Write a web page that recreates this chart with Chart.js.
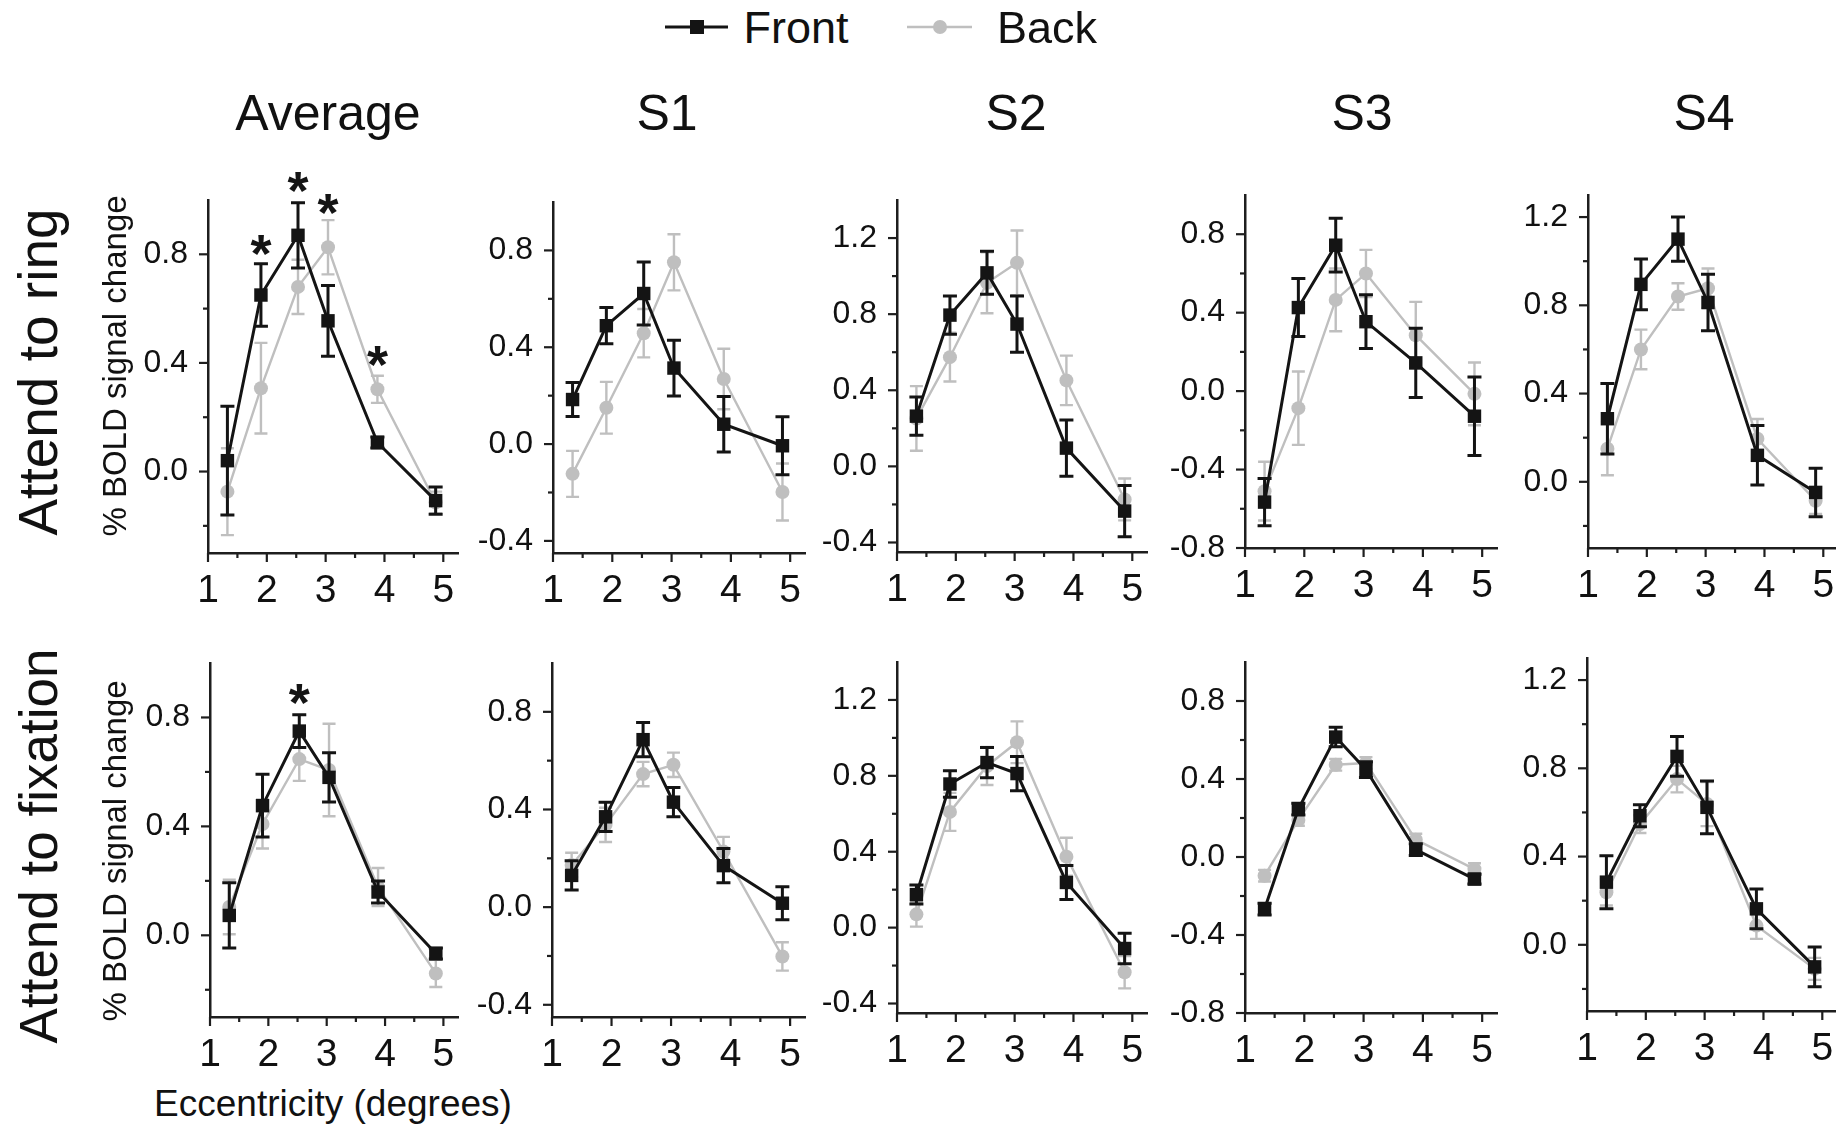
<!DOCTYPE html>
<html><head><meta charset="utf-8">
<script src="https://cdn.jsdelivr.net/npm/chart.js@4"></script>
<style>
body{margin:0;width:1836px;height:1127px;background:#fff;position:relative;overflow:hidden;font-family:"Liberation Sans",Arial,sans-serif;color:#111}
canvas{position:absolute}
.lbl{position:absolute;white-space:nowrap;line-height:1;transform:translate(-50%,-50%)}
.rot{transform:translate(-50%,-50%) rotate(-90deg)}
</style></head><body>
<div class="lbl" style="left:0;top:0;transform:none;" id="legend"></div>
<script>
// ---------- DATA ----------
const eccentricity = [1.33, 1.9, 2.53, 3.04, 3.88, 4.87];
const seriesNames = ['Front', 'Back'];
const panelTitles = ['Average', 'S1', 'S2', 'S3', 'S4'];
const rowTitles = ['Attend to ring', 'Attend to fixation'];
const yAxisTitle = '% BOLD signal change';
const xAxisTitle = 'Eccentricity (degrees)';

// Attend to ring
const avgRingFront = [0.04, 0.65, 0.87, 0.555, 0.107, -0.107];
const avgRingFrontErr = [0.2, 0.115, 0.12, 0.13, 0.02, 0.05];
const avgRingBack = [-0.074, 0.307, 0.68, 0.826, 0.303, -0.114];
const avgRingBackErr = [0.16, 0.167, 0.1, 0.1, 0.05, 0.04];
const s1RingFront = [0.184, 0.489, 0.622, 0.314, 0.082, -0.007];
const s1RingFrontErr = [0.07, 0.075, 0.13, 0.115, 0.115, 0.12];
const s1RingBack = [-0.123, 0.15, 0.458, 0.751, 0.269, -0.198];
const s1RingBackErr = [0.095, 0.107, 0.1, 0.116, 0.125, 0.118];
const s2RingFront = [0.264, 0.795, 1.017, 0.748, 0.096, -0.235];
const s2RingFrontErr = [0.1, 0.1, 0.113, 0.148, 0.148, 0.135];
const s2RingBack = [0.252, 0.574, 0.965, 1.07, 0.452, -0.174];
const s2RingBackErr = [0.17, 0.128, 0.16, 0.17, 0.13, 0.11];
const s3RingFront = [-0.566, 0.426, 0.744, 0.354, 0.144, -0.128];
const s3RingFrontErr = [0.12, 0.148, 0.137, 0.137, 0.177, 0.2];
const s3RingBack = [-0.51, -0.087, 0.465, 0.6, 0.285, -0.014];
const s3RingBackErr = [0.15, 0.187, 0.16, 0.12, 0.17, 0.16];
const s4RingFront = [0.286, 0.895, 1.10, 0.813, 0.12, -0.048];
const s4RingFrontErr = [0.16, 0.115, 0.1, 0.128, 0.135, 0.11];
const s4RingBack = [0.15, 0.6, 0.84, 0.877, 0.195, -0.086];
const s4RingBackErr = [0.12, 0.09, 0.06, 0.09, 0.09, 0.06];

// Attend to fixation
const avgFixFront = [0.073, 0.476, 0.75, 0.58, 0.159, -0.067];
const avgFixFrontErr = [0.12, 0.115, 0.06, 0.09, 0.04, 0.02];
const avgFixBack = [0.104, 0.409, 0.647, 0.607, 0.177, -0.14];
const avgFixBackErr = [0.1, 0.09, 0.08, 0.17, 0.07, 0.05];
const s1FixFront = [0.13, 0.37, 0.686, 0.43, 0.17, 0.016];
const s1FixFrontErr = [0.06, 0.06, 0.07, 0.06, 0.07, 0.068];
const s1FixBack = [0.173, 0.337, 0.545, 0.583, 0.228, -0.202];
const s1FixBackErr = [0.05, 0.07, 0.05, 0.05, 0.06, 0.058];
const s2FixFront = [0.174, 0.757, 0.87, 0.812, 0.238, -0.11];
const s2FixFrontErr = [0.05, 0.07, 0.08, 0.09, 0.09, 0.08];
const s2FixBack = [0.07, 0.61, 0.852, 0.977, 0.374, -0.235];
const s2FixBackErr = [0.065, 0.1, 0.1, 0.11, 0.1, 0.085];
const s3FixFront = [-0.267, 0.246, 0.615, 0.448, 0.038, -0.113];
const s3FixFrontErr = [0.03, 0.03, 0.05, 0.04, 0.03, 0.025];
const s3FixBack = [-0.096, 0.19, 0.473, 0.482, 0.089, -0.062];
const s3FixBackErr = [0.03, 0.03, 0.03, 0.03, 0.03, 0.03];
const s4FixFront = [0.284, 0.585, 0.854, 0.623, 0.163, -0.1];
const s4FixFrontErr = [0.12, 0.05, 0.09, 0.12, 0.09, 0.09];
const s4FixBack = [0.238, 0.547, 0.751, 0.638, 0.087, -0.109];
const s4FixBackErr = [0.06, 0.04, 0.06, 0.1, 0.06, 0.05];

// significance markers (x, y in data units)
const avgRingStarX = [1.9, 2.53, 3.04, 3.88];
const avgRingStarY = [0.85, 1.08, 1.0, 0.44];
const avgFixStarX = [2.53];
const avgFixStarY = [0.9];

// axes
const xRange = [1, 5.25];
const xMajorTicks = [1, 2, 3, 4, 5];
const xMinorTicks = [1.5, 2.5, 3.5, 4.5];
const yRangeAvg = [-0.3, 1.0], yMajorAvg = [0, 0.4, 0.8], yMinorAvg = [-0.2, 0.2, 0.6];
const yRangeS1 = [-0.45, 1.0], yMajorS1 = [-0.4, 0, 0.4, 0.8], yMinorS1 = [-0.2, 0.2, 0.6];
const yRangeS2 = [-0.45, 1.4], yMajorS2 = [-0.4, 0, 0.4, 0.8, 1.2], yMinorS2 = [-0.2, 0.2, 0.6, 1.0];
const yRangeS3 = [-0.8, 1.0], yMajorS3 = [-0.8, -0.4, 0, 0.4, 0.8], yMinorS3 = [-0.6, -0.2, 0.2, 0.6];
const yRangeS4 = [-0.3, 1.3], yMajorS4 = [0, 0.4, 0.8, 1.2], yMinorS4 = [-0.2, 0.2, 0.6, 1.0];

// ---------- LAYOUT / STYLE ----------
const FRONT_COLOR = '#141414', BACK_COLOR = '#bfbfbf', AXIS_COLOR = '#1e1e1e';
const FONT = '"Liberation Sans", Arial, sans-serif';
const YW = 84, XH = 64, PT = 60, PR = 20;
const panels = [
  {box:[208,200,458,553], yr:yRangeAvg, maj:yMajorAvg, min:yMinorAvg, f:avgRingFront, fe:avgRingFrontErr, b:avgRingBack, be:avgRingBackErr, sx:avgRingStarX, sy:avgRingStarY},
  {box:[553,202,805,553], yr:yRangeS1, maj:yMajorS1, min:yMinorS1, f:s1RingFront, fe:s1RingFrontErr, b:s1RingBack, be:s1RingBackErr},
  {box:[897,200,1147,552], yr:yRangeS2, maj:yMajorS2, min:yMinorS2, f:s2RingFront, fe:s2RingFrontErr, b:s2RingBack, be:s2RingBackErr},
  {box:[1245,195,1497,548], yr:yRangeS3, maj:yMajorS3, min:yMinorS3, f:s3RingFront, fe:s3RingFrontErr, b:s3RingBack, be:s3RingBackErr},
  {box:[1588,195,1838,548], yr:yRangeS4, maj:yMajorS4, min:yMinorS4, f:s4RingFront, fe:s4RingFrontErr, b:s4RingBack, be:s4RingBackErr},
  {box:[210,663,458,1017], yr:yRangeAvg, maj:yMajorAvg, min:yMinorAvg, f:avgFixFront, fe:avgFixFrontErr, b:avgFixBack, be:avgFixBackErr, sx:avgFixStarX, sy:avgFixStarY},
  {box:[552,663,805,1017], yr:yRangeS1, maj:yMajorS1, min:yMinorS1, f:s1FixFront, fe:s1FixFrontErr, b:s1FixBack, be:s1FixBackErr},
  {box:[897,662,1147,1013], yr:yRangeS2, maj:yMajorS2, min:yMinorS2, f:s2FixFront, fe:s2FixFrontErr, b:s2FixBack, be:s2FixBackErr},
  {box:[1245,662,1497,1013], yr:yRangeS3, maj:yMajorS3, min:yMinorS3, f:s3FixFront, fe:s3FixFrontErr, b:s3FixBack, be:s3FixBackErr},
  {box:[1587,658,1837,1011], yr:yRangeS4, maj:yMajorS4, min:yMinorS4, f:s4FixFront, fe:s4FixFrontErr, b:s4FixBack, be:s4FixBackErr}
];

const near = (a, b) => Math.abs(a - b) < 1e-6;

const errorBarPlugin = {
  id: 'errorBars',
  beforeDatasetDraw(chart, args) {
    const ds = chart.data.datasets[args.index];
    if (!ds.err) return;
    const xs = chart.scales.x, ys = chart.scales.y, ctx = chart.ctx;
    ctx.save();
    ctx.strokeStyle = ds.borderColor; ctx.lineWidth = ds.errWidth;
    ds.data.forEach((p, i) => {
      const px = xs.getPixelForValue(p.x);
      const top = ys.getPixelForValue(p.y + ds.err[i]);
      const bot = ys.getPixelForValue(p.y - ds.err[i]);
      ctx.beginPath();
      ctx.moveTo(px, top); ctx.lineTo(px, bot);
      ctx.moveTo(px - ds.capHalf, top); ctx.lineTo(px + ds.capHalf, top);
      ctx.moveTo(px - ds.capHalf, bot); ctx.lineTo(px + ds.capHalf, bot);
      ctx.stroke();
    });
    ctx.restore();
  }
};

const tickMarkPlugin = {
  id: 'tickMarks',
  afterDraw(chart) {
    const ctx = chart.ctx, ca = chart.chartArea;
    const xs = chart.scales.x, ys = chart.scales.y;
    const o = chart.options.plugins.tickMarks;
    ctx.save(); ctx.strokeStyle = AXIS_COLOR; ctx.lineWidth = 2.2;
    ys.ticks.forEach(t => {
      const py = ys.getPixelForValue(t.value);
      const len = o.yMajor.some(v => near(v, t.value)) ? 9 : 5;
      ctx.beginPath(); ctx.moveTo(ca.left, py); ctx.lineTo(ca.left - len, py); ctx.stroke();
    });
    xs.ticks.forEach(t => {
      const px = xs.getPixelForValue(t.value);
      const len = xMajorTicks.some(v => near(v, t.value)) ? 9 : 5;
      ctx.beginPath(); ctx.moveTo(px, ca.bottom); ctx.lineTo(px, ca.bottom + len); ctx.stroke();
    });
    ctx.restore();
  }
};

const starPlugin = {
  id: 'stars',
  afterDatasetsDraw(chart) {
    const o = chart.options.plugins.stars;
    if (!o || !o.xs) return;
    const xs = chart.scales.x, ys = chart.scales.y, ctx = chart.ctx;
    ctx.save();
    ctx.fillStyle = FRONT_COLOR; ctx.font = 'bold 54px ' + FONT;
    ctx.textAlign = 'center'; ctx.textBaseline = 'alphabetic';
    o.xs.forEach((x, i) => {
      ctx.fillText('*', xs.getPixelForValue(x), ys.getPixelForValue(o.ys[i]) + 0.57 * 54);
    });
    ctx.restore();
  }
};

panels.forEach(p => {
  const [l, t, r, b] = p.box;
  const c = document.createElement('canvas');
  c.width = YW + (r - l) + PR; c.height = PT + (b - t) + XH;
  c.style.left = (l - YW) + 'px'; c.style.top = (t - PT) + 'px';
  document.body.appendChild(c);
  const yTicks = [...p.maj, ...p.min].sort((a, b) => a - b);
  const xTicks = [...xMajorTicks, ...xMinorTicks].sort((a, b) => a - b);
  new Chart(c, {
    type: 'scatter',
    data: {
      datasets: [
        {label: seriesNames[0], data: eccentricity.map((x, i) => ({x, y: p.f[i]})), err: p.fe,
         showLine: true, borderColor: FRONT_COLOR, backgroundColor: FRONT_COLOR, borderWidth: 3,
         pointStyle: 'rect', pointRadius: 9.5, pointBorderWidth: 0, errWidth: 3, capHalf: 7, clip: false},
        {label: seriesNames[1], data: eccentricity.map((x, i) => ({x, y: p.b[i]})), err: p.be,
         showLine: true, borderColor: BACK_COLOR, backgroundColor: BACK_COLOR, borderWidth: 2.4,
         pointStyle: 'circle', pointRadius: 7, pointBorderWidth: 0, errWidth: 2.4, capHalf: 6.5, clip: false}
      ]
    },
    options: {
      responsive: false, animation: false, devicePixelRatio: 1,
      layout: {padding: {top: PT, right: PR, left: 0, bottom: 0}},
      plugins: {legend: {display: false}, tooltip: {enabled: false},
        tickMarks: {yMajor: p.maj}, stars: {xs: p.sx, ys: p.sy}},
      scales: {
        x: {type: 'linear', min: xRange[0], max: xRange[1],
            afterBuildTicks: s => { s.ticks = xTicks.map(v => ({value: v})); },
            afterFit: s => { s.height = XH; },
            grid: {display: false}, border: {display: true, color: AXIS_COLOR, width: 2.5},
            ticks: {autoSkip: false, maxRotation: 0, padding: 7, color: '#111',
              font: {family: FONT, size: 39},
              callback: v => xMajorTicks.some(m => near(m, v)) ? String(Math.round(v)) : ''}},
        y: {type: 'linear', min: p.yr[0], max: p.yr[1],
            afterBuildTicks: s => { s.ticks = yTicks.map(v => ({value: v})); },
            afterFit: s => { s.width = YW; },
            grid: {display: false}, border: {display: true, color: AXIS_COLOR, width: 2.5},
            ticks: {autoSkip: false, padding: 12, color: '#111',
              font: {family: FONT, size: 32},
              callback: v => p.maj.some(m => near(m, v)) ? v.toFixed(1) : ''}}
      }
    },
    plugins: [errorBarPlugin, tickMarkPlugin, starPlugin]
  });
});

// ---------- TEXT ----------
function addLabel(text, x, y, size, rot, extra) {
  const d = document.createElement('div');
  d.className = 'lbl' + (rot ? ' rot' : '');
  d.textContent = text;
  d.style.left = x + 'px'; d.style.top = y + 'px'; d.style.fontSize = size + 'px';
  if (extra) Object.assign(d.style, extra);
  document.body.appendChild(d);
}
const titleX = [328, 667, 1016, 1362, 1704];
panelTitles.forEach((tx, i) => addLabel(tx, titleX[i], 113, 50));
addLabel(rowTitles[0], 38, 372, 55, true);
addLabel(rowTitles[1], 38, 846, 53, true);
addLabel(yAxisTitle, 114, 366, 33, true);
addLabel(yAxisTitle, 114, 851, 33, true);
addLabel(xAxisTitle, 333, 1103, 37);

// legend
const leg = document.getElementById('legend');
leg.innerHTML =
  '<svg width="1836" height="60" style="position:absolute;left:0;top:0">' +
  '<line x1="665" y1="27" x2="728" y2="27" stroke="' + FRONT_COLOR + '" stroke-width="3"/>' +
  '<rect x="690" y="20" width="14" height="14" fill="' + FRONT_COLOR + '"/>' +
  '<line x1="907" y1="27" x2="972" y2="27" stroke="' + BACK_COLOR + '" stroke-width="2.4"/>' +
  '<circle cx="940" cy="27" r="7" fill="' + BACK_COLOR + '"/></svg>';
addLabel(seriesNames[0], 796, 27, 45);
addLabel(seriesNames[1], 1047, 27, 45);
</script>
</body></html>
